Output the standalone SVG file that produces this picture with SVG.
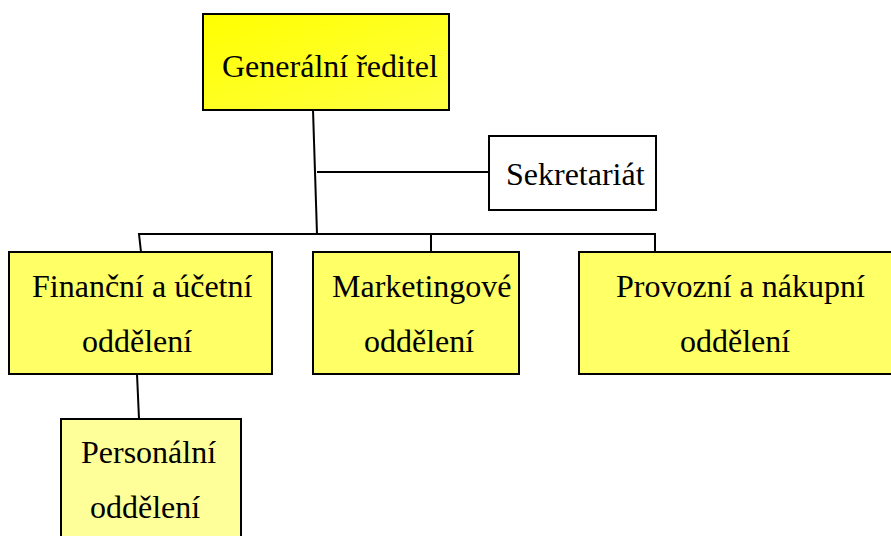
<svg xmlns="http://www.w3.org/2000/svg" width="891" height="536" viewBox="0 0 891 536">
<style>
.box{stroke:#000;stroke-width:2}
.mid{fill:#FFFF66}
.pale{fill:#FFFF99}
.white{fill:#FFFFFF}
.t{font-family:"Liberation Serif","Times New Roman",serif;font-size:32px;fill:#000}
.c{stroke:#000;stroke-width:2;fill:none}
</style>
<defs>
<linearGradient id="gr" x1="0" y1="0" x2="1" y2="1">
<stop offset="0" stop-color="#FFFF00"/>
<stop offset="1" stop-color="#FFFF44"/>
</linearGradient>
</defs>
<g id="connectors">
<line class="c" x1="313" y1="110" x2="317" y2="234"/>
<line class="c" x1="317" y1="172" x2="489" y2="172"/>
<polyline class="c" points="141,252 139,234 655,234 655,252"/>
<line class="c" x1="431" y1="234" x2="431" y2="252"/>
<line class="c" x1="137" y1="374" x2="139" y2="419"/>
</g>
<g id="generalni-reditel">
<rect class="box" x="203" y="14" width="246" height="96" fill="url(#gr)"/>
<text class="t" x="222" y="77">Generální ředitel</text>
</g>
<g id="sekretariat">
<rect class="box white" x="489" y="136" width="167" height="74"/>
<text class="t" x="506" y="185">Sekretariát</text>
</g>
<g id="financni">
<rect class="box mid" x="9" y="252" width="263" height="122"/>
<text class="t" x="32" y="297">Finanční a účetní</text>
<text class="t" x="82" y="352">oddělení</text>
</g>
<g id="marketingove">
<rect class="box mid" x="313" y="252" width="206" height="122"/>
<text class="t" x="332" y="297">Marketingové</text>
<text class="t" x="364" y="352">oddělení</text>
</g>
<g id="provozni">
<rect class="box mid" x="579" y="252" width="320" height="122"/>
<text class="t" x="616" y="297">Provozní a nákupní</text>
<text class="t" x="680" y="352">oddělení</text>
</g>
<g id="personalni">
<rect class="box pale" x="61" y="419" width="180" height="130"/>
<text class="t" x="81" y="463">Personální</text>
<text class="t" x="90" y="518">oddělení</text>
</g>
</svg>
